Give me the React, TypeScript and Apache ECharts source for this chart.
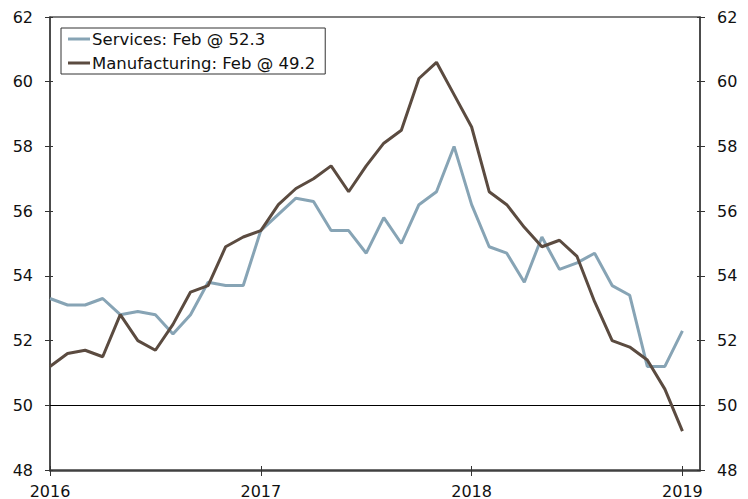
import React, { useEffect, useRef } from "react";
import * as echarts from "echarts";

const years = ["2016", "2017", "2018", "2019"];
const monthNames = ["Jan", "Feb", "Mar", "Apr", "May", "Jun", "Jul", "Aug", "Sep", "Oct", "Nov", "Dec"];
const yTicks = { min: 48, max: 62, step: 2 };

const servicesName = "Services: Feb @ 52.3";
const manufacturingName = "Manufacturing: Feb @ 49.2";

const services = [
  53.3, 53.1, 53.1, 53.3, 52.8, 52.9, 52.8, 52.2, 52.8, 53.8, 53.7, 53.7,
  55.4, 55.9, 56.4, 56.3, 55.4, 55.4, 54.7, 55.8, 55.0, 56.2, 56.6, 58.0,
  56.2, 54.9, 54.7, 53.8, 55.2, 54.2, 54.4, 54.7, 53.7, 53.4, 51.2, 51.2,
  52.3,
];
const manufacturing = [
  51.2, 51.6, 51.7, 51.5, 52.8, 52.0, 51.7, 52.5, 53.5, 53.7, 54.9, 55.2,
  55.4, 56.2, 56.7, 57.0, 57.4, 56.6, 57.4, 58.1, 58.5, 60.1, 60.6, 59.6,
  58.6, 56.6, 56.2, 55.5, 54.9, 55.1, 54.6, 53.2, 52.0, 51.8, 51.4, 50.5,
  49.2,
];

const categories: string[] = [];
years.forEach((y, yi) => {
  monthNames.forEach((m, mi) => {
    if (yi < years.length - 1 || mi < 2) categories.push(m + " " + y);
  });
});

const FONT = "DejaVu Sans";
const isYearStart = (i: number) => i % 12 === 0;

export default function App() {
  const ref = useRef<HTMLDivElement>(null);
  useEffect(() => {
    if (!ref.current) return;
    const chart = echarts.init(ref.current, null, { renderer: "svg" });
    const baseX = {
      type: "category" as const,
      data: categories,
      boundaryGap: false,
      gridIndex: 0,
    };
    const baseY = {
      type: "value" as const,
      min: yTicks.min,
      max: yTicks.max,
      interval: yTicks.step,
      splitLine: { show: false },
    };
    chart.setOption({
      animation: false,
      backgroundColor: "#fff",
      grid: { left: 50, right: 48, top: 17, bottom: 28, containLabel: false },
      legend: {
        left: 61,
        top: 28,
        orient: "vertical",
        icon: "rect",
        itemWidth: 22,
        itemHeight: 3,
        itemGap: 4,
        padding: [1, 10, 1, 7],
        borderColor: "#333",
        borderWidth: 1,
        backgroundColor: "#fff",
        textStyle: { fontFamily: FONT, fontSize: 16.5, color: "#111", lineHeight: 20, padding: [0, 0, 0, -3] },
        data: [servicesName, manufacturingName],
      },
      xAxis: [
        {
          ...baseX,
          position: "bottom",
          axisLine: { show: true, lineStyle: { color: "#404040", width: 2.5 } },
          axisTick: { show: true, interval: (i: number) => isYearStart(i), length: 6, lineStyle: { color: "#333", width: 1 } },
          axisLabel: {
            show: true,
            interval: (i: number) => isYearStart(i),
            formatter: (v: string) => v.split(" ")[1],
            margin: 13,
            fontFamily: FONT,
            fontSize: 16,
            color: "#111",
          },
        },
        {
          ...baseX,
          position: "bottom",
          axisLine: { show: false },
          axisTick: { show: true, inside: true, interval: (i: number) => isYearStart(i), length: 4, lineStyle: { color: "#333", width: 1 } },
          axisLabel: { show: false },
        },
        {
          ...baseX,
          position: "top",
          axisLine: { show: true, lineStyle: { color: "#555", width: 1.5 } },
          axisTick: { show: false },
          axisLabel: { show: false },
        },
      ],
      yAxis: [
        {
          ...baseY,
          position: "left",
          axisLine: { show: true, lineStyle: { color: "#111", width: 1.5 } },
          axisTick: { show: true, length: 5, lineStyle: { color: "#333", width: 1 } },
          axisLabel: { margin: 17, fontFamily: FONT, fontSize: 16, color: "#111" },
        },
        {
          ...baseY,
          position: "left",
          axisLine: { show: false },
          axisTick: { show: true, inside: true, length: 3, lineStyle: { color: "#333", width: 1 } },
          axisLabel: { show: false },
        },
        {
          ...baseY,
          position: "right",
          axisLine: { show: true, lineStyle: { color: "#111", width: 1.5 } },
          axisTick: { show: true, length: 5, lineStyle: { color: "#333", width: 1 } },
          axisLabel: { margin: 17, fontFamily: FONT, fontSize: 16, color: "#111" },
        },
        {
          ...baseY,
          position: "right",
          axisLine: { show: false },
          axisTick: { show: true, inside: true, length: 3, lineStyle: { color: "#333", width: 1 } },
          axisLabel: { show: false },
        },
      ],
      series: [
        {
          name: servicesName,
          type: "line",
          xAxisIndex: 0,
          yAxisIndex: 0,
          data: services,
          symbol: "none",
          color: "#87A4B5",
          lineStyle: { color: "#87A4B5", width: 3 },
          z: 3,
          markLine: {
            silent: true,
            symbol: ["none", "none"],
            label: { show: false },
            lineStyle: { color: "#000", width: 1, type: "solid" },
            data: [{ yAxis: 50 }],
            z: 1,
          },
        },
        {
          name: manufacturingName,
          type: "line",
          xAxisIndex: 0,
          yAxisIndex: 0,
          data: manufacturing,
          symbol: "none",
          color: "#5B4B40",
          lineStyle: { color: "#5B4B40", width: 3 },
          z: 4,
        },
      ],
    });
    return () => chart.dispose();
  }, []);
  return <div ref={ref} style={{ width: 748, height: 499, position: "absolute", left: 0, top: 0 }} />;
}
